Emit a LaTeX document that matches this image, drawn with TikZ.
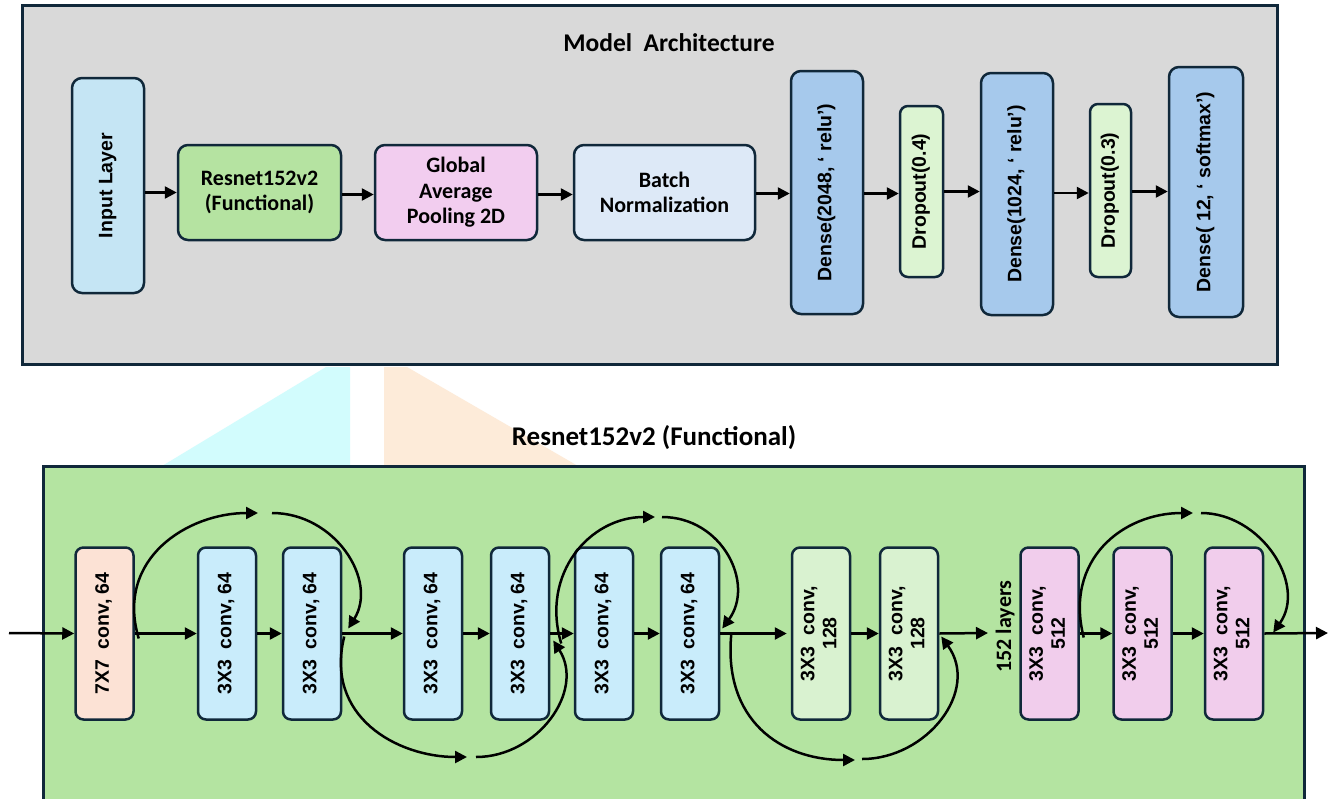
\documentclass[tikz,border=0pt]{standalone}
\usepackage{fontspec}
\setmainfont{Liberation Sans}
\newfontfamily\calfont{Carlito}
\usepackage{graphicx}
\usetikzlibrary{arrows.meta,calc}

\definecolor{navy}{HTML}{10283A}
\definecolor{topgray}{HTML}{D9D9D9}
\definecolor{botgreen}{HTML}{B4E4A1}
\definecolor{cInput}{HTML}{C5E5F4}
\definecolor{cRes}{HTML}{B5E3A1}
\definecolor{cGap}{HTML}{F2CDEF}
\definecolor{cBn}{HTML}{DDE9F7}
\definecolor{cDense}{HTML}{A6C9EC}
\definecolor{cDrop}{HTML}{DCF4D2}
\definecolor{cSeven}{HTML}{FCE2D5}
\definecolor{cSixtyFour}{HTML}{C9ECFB}
\definecolor{cOneTwoEight}{HTML}{D9F2D0}
\definecolor{cFiveTwelve}{HTML}{F1CDEC}
\definecolor{wmcyan}{HTML}{D2FCFD}
\definecolor{wmpeach}{HTML}{FDEBD9}

% vertical (rotated) multi-line label
\newcommand{\uprot}[1]{\rotatebox{90}{\begin{tabular}{@{}c@{}}#1\end{tabular}}}

\begin{document}
\begin{tikzpicture}[x=1pt,y=1pt,
  panel/.style={line width=3pt,draw=navy},
  blk/.style={draw=navy,line width=2.5pt,rounded corners=10pt,inner sep=0pt,align=center},
  sblk/.style={blk,rounded corners=8pt,minimum width=58pt,minimum height=172pt,arial},
  arial/.style={font=\bfseries\fontsize{19.5}{22}\selectfont},
  cal/.style={font=\calfont\bfseries\fontsize{22}{25.5}\selectfont},
  ttl/.style={font=\calfont\bfseries\fontsize{25.5}{29}\selectfont},
  flow/.style={line width=2.5pt,-{Triangle[length=12pt,width=12pt]}},
  skip/.style={line width=2.5pt,-{Triangle[length=12pt,width=12pt]}}
]
\useasboundingbox (0,0) rectangle (1330,-798);
\fill[white] (0,0) rectangle (1330,-798);

% faint background shapes between the panels
\fill[wmcyan] (326,-367) -- (350,-367) -- (350,-466) -- (162,-466) -- cycle;
\fill[wmpeach] (384,-367) -- (407,-367) -- (578,-466) -- (384,-466) -- cycle;

% ---------------- model architecture panel ----------------
\draw[panel,fill=topgray] (22.5,-5.5) rectangle (1277,-364);
\node[ttl] (t1) at (669,-43) {Model\ \ Architecture};

\node[blk,fill=cInput,minimum width=72pt,minimum height=215pt,arial] (inp) at (108,-185.5) {\uprot{Input Layer}};
\node[blk,fill=cRes,minimum width=163pt,minimum height=95pt,cal] (res) at (259.5,-192.5) {Resnet152v2\\(Functional)};
\node[blk,fill=cGap,minimum width=162pt,minimum height=95pt,cal] (gap) at (456,-192.5) {Global\\Average\\Pooling 2D};
\node[blk,fill=cBn,minimum width=181pt,minimum height=95pt,cal] (bn) at (664.5,-192.5) {Batch\\Normalization};
\node[blk,fill=cDense,minimum width=72pt,minimum height=243pt,arial] (d1) at (827,-192.5) {\uprot{Dense(2048, ‘ relu’)}};
\node[blk,fill=cDrop,minimum width=43pt,minimum height=171pt,arial,rounded corners=8pt] (do1) at (921.5,-191.5) {\uprot{Dropout(0.4)}};
\node[blk,fill=cDense,minimum width=72pt,minimum height=242pt,arial] (d2) at (1017,-194) {\uprot{Dense(1024, ‘ relu’)}};
\node[blk,fill=cDrop,minimum width=41pt,minimum height=173pt,arial,rounded corners=8pt] (do2) at (1110.5,-190.5) {\uprot{Dropout(0.3)}};
\node[blk,fill=cDense,minimum width=74pt,minimum height=250pt,arial] (d3) at (1206,-192) {\uprot{Dense( 12, ‘ softmax’)}};

\draw[flow] (res.west -| inp.east) -- (res.west);
\draw[flow] ([yshift=-2pt]res.east) -- ([yshift=-2pt]gap.west);
\draw[flow] ([yshift=-2pt]gap.east) -- ([yshift=-2pt]bn.west);
\draw[flow] ([yshift=-1pt]bn.east) -- ([yshift=-1pt]bn.east -| d1.west);
\draw[flow] ([yshift=-1pt]d1.east) -- ([yshift=-1pt]d1.east -| do1.west);
\draw[flow] (do1.east) -- (do1.east -| d2.west);
\draw[flow] ([yshift=1pt]d2.east) -- ([yshift=1pt]d2.east -| do2.west);
\draw[flow] ([yshift=-1pt]do2.east) -- ([yshift=-1pt]do2.east -| d3.west);

% ---------------- ResNet152v2 panel ----------------
\node[ttl,font=\calfont\bfseries\fontsize{27}{31}\selectfont] (t2) at (654,-438) {Resnet152v2 (Functional)};
\fill[botgreen] (43,-466) rectangle (1304,-810);
\draw[panel] (43,-810) -- (43,-466) -- (1304,-466) -- (1304,-810);

\node[sblk,fill=cSeven] (b1) at (104.5,-633.5) {\uprot{7X7\ \ conv, 64}};
\node[sblk,fill=cSixtyFour] (b2) at (227,-633.5) {\uprot{3X3\ \ conv, 64}};
\node[sblk,fill=cSixtyFour] (b3) at (312,-633.5) {\uprot{3X3\ \ conv, 64}};
\node[sblk,fill=cSixtyFour] (b4) at (433,-633.5) {\uprot{3X3\ \ conv, 64}};
\node[sblk,fill=cSixtyFour] (b5) at (520,-633.5) {\uprot{3X3\ \ conv, 64}};
\node[sblk,fill=cSixtyFour] (b6) at (604,-633.5) {\uprot{3X3\ \ conv, 64}};
\node[sblk,fill=cSixtyFour] (b7) at (690,-633.5) {\uprot{3X3\ \ conv, 64}};
\node[sblk,fill=cOneTwoEight] (b8) at (821,-633.5) {\uprot{3X3\ \ conv,\\128}};
\node[sblk,fill=cOneTwoEight] (b9) at (909,-633.5) {\uprot{3X3\ \ conv,\\128}};
\node[cal,rotate=90] (lay) at (1005,-626.5) {152 layers};
\node[sblk,fill=cFiveTwelve] (b10) at (1049.5,-633.5) {\uprot{3X3\ \ conv,\\512}};
\node[sblk,fill=cFiveTwelve] (b11) at (1142.5,-633.5) {\uprot{3X3\ \ conv,\\512}};
\node[sblk,fill=cFiveTwelve] (b12) at (1234,-633.5) {\uprot{3X3\ \ conv,\\512}};

\coordinate (inA) at (9,-633);
\coordinate (layin) at (988,-633);
\coordinate (outA) at (1328,-633);

% main flow
\draw[flow] (inA) -- (b1.west);
\draw[flow] (b1.east) -- (b2.west);
\draw[flow] (b2.east) -- (b3.west);
\draw[flow] (b3.east) -- (b4.west);
\draw[flow] (b4.east) -- (b5.west);
\draw[flow] (b5.east) -- (b6.west);
\draw[flow] (b6.east) -- (b7.west);
\draw[flow] (b7.east) -- ([xshift=-4pt]b8.west);
\draw[flow] (b8.east) -- (b9.west);
\draw[flow] (b9.east) -- (layin);
\draw[flow] (b10.east) -- (b11.west);
\draw[flow] (b11.east) -- (b12.west);
\draw[flow] (b12.east) -- (outA);

% skip connections, each drawn as two arcs meeting at a gap
\coordinate (k1t) at (258,-513);  \coordinate (k1s) at (272,-513);
\coordinate (k2t) at (467,-757);  \coordinate (k2s) at (476,-757);
\coordinate (k3t) at (655,-517);  \coordinate (k3s) at (662,-517);
\coordinate (k4t) at (855,-760);  \coordinate (k4s) at (862,-759);
\coordinate (k5t) at (1193,-513); \coordinate (k5s) at (1201,-513);

\draw[skip] ($(b1.east)+(4,-5)$) .. controls +(-24,80) and +(-70,0) .. (k1t);
\draw[skip] (k1s) .. controls +(63,0) and +(30,48) .. ($(b3.east)+(6,5)$);

\draw[skip] ($(b3.east)+(2,-3)$) .. controls +(-20,-80) and +(-70,0) .. (k2t);
\draw[skip] (k2s) .. controls +(62,0) and +(32,-50) .. ($(b5.east)+(3,-7)$);

\draw[skip] ($(b5.east)+(11,-10)$) .. controls +(-21,70) and +(-65,0) .. (k3t);
\draw[skip] (k3s) .. controls +(60,0) and +(33,45) .. ($(b7.east)+(2,5)$);

\draw[skip] ($(b7.east)+(11,-1)$) .. controls +(-8,-85) and +(-75,0) .. (k4t);
\draw[skip] (k4s) .. controls +(65,0) and +(39,-54) .. ($(b9.east)+(2,-3)$);

\draw[skip] ($(b10.east)+(4,-4)$) .. controls +(-20,78) and +(-70,0) .. (k5t);
\draw[skip] (k5s) .. controls +(60,0) and +(34,48) .. ($(b12.east)+(9,1)$);
\end{tikzpicture}
\end{document}
